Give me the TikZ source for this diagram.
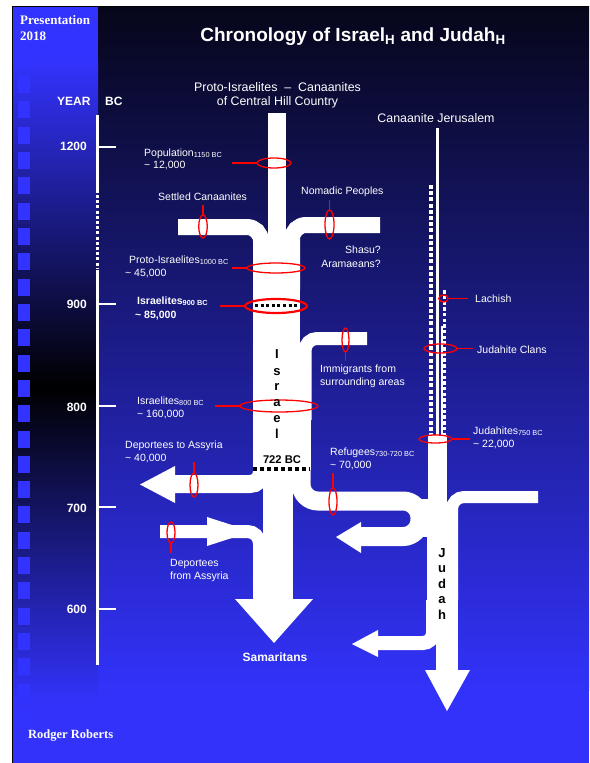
\documentclass[tikz,border=0pt]{standalone}
\usepackage{fontspec}
\setmainfont{Liberation Sans}
\newfontfamily\timesf{Liberation Serif}
\usetikzlibrary{shapes.geometric}
\definecolor{bgtop}{RGB}{6,6,26}
\definecolor{bgmid}{RGB}{30,30,150}
\definecolor{bgbot}{RGB}{50,50,250}
\definecolor{pblue}{RGB}{51,51,255}
\definecolor{bandmid}{RGB}{34,34,175}
\definecolor{bandmidb}{RGB}{25,25,130}
\begin{document}
\begin{tikzpicture}[x=1pt,y=-1pt,
  flow/.style={draw=white, line width=#1, line cap=butt},
  wfill/.style={fill=white, draw=none},
  ring/.style={draw=red, line width=1.3, ellipse, inner sep=0pt, outer sep=0pt},
  lead/.style={draw=red, line width=1.3},
  lbl/.style={text=white, inner sep=0pt, anchor=base west, font=\fontsize{10.5}{12}\selectfont},
  lblb/.style={lbl, font=\fontsize{10.5}{12}\selectfont\bfseries},
  hdr/.style={text=white, inner sep=0pt, anchor=base, font=\fontsize{12.4}{14}\selectfont},
  yr/.style={text=white, inner sep=0pt, anchor=base east, font=\fontsize{12}{14}\selectfont\bfseries},
  vlet/.style={text=black, inner sep=0pt, anchor=base, font=\fontsize{13}{15}\selectfont\bfseries},
  tick/.style={draw=white, line width=1.5},
  dotw/.style={draw=white, line width=#1, dash pattern=on #1 off 2.2pt},
]
\useasboundingbox (0,0) rectangle (589,763);
\fill[white] (0,0) rectangle (589,763);
% backgrounds
\shade[top color=bgtop, middle color=bgmid, bottom color=bgbot] (98,6) rectangle (589,690);
\fill[bgbot] (98,689) rectangle (589,763);
\fill[pblue] (12,6) rectangle (98,60);
\shade[top color=pblue, middle color=bandmid, bottom color=black] (12,59.5) rectangle (98,387);
\shade[top color=black, middle color=bandmidb, bottom color=bgbot] (12,386.5) rectangle (98,700);
\fill[bgbot] (12,699.5) rectangle (98,763);
\foreach \k in {0,...,26} { \fill[pblue] (18,{50.7+25.32*\k}) rectangle +(12,17); }
\draw[black, line width=0.8] (12,763) -- (12,6) -- (589,6);

% timeline
\draw[white, line width=3] (97,115) -- (97,193);
\draw[white, line width=3, dash pattern=on 3 off 2.2] (97,195) -- (97,268);
\draw[white, line width=3] (97,270) -- (97,665);
\foreach \yy in {147,304,406,507,609} { \draw[tick] (97,\yy) -- (116,\yy); }

% ---- Israel stream ----
\fill[wfill] (268,113) rectangle (286,282);
\draw[flow=16, rounded corners=14] (178,227) -- (261,227) -- (261,290);
\draw[flow=16, rounded corners=14] (380,225) -- (292,225) -- (292,290);
\fill[wfill] (253,270) rectangle (300,350);
\draw[flow=13, rounded corners=12] (367,338.5) -- (305,338.5) -- (305,420);
\fill[wfill] (253,345) rectangle (311,470);
\draw[flow=18, rounded corners=12] (262,440) -- (262,484) -- (174,484);
\fill[wfill] (175,466) -- (140,484.5) -- (175,503) -- cycle;
\fill[wfill] (263,460) rectangle (293,600);
\draw[flow=13, rounded corners=12] (160,531.5) -- (259.5,531.5) -- (259.5,601);
\fill[wfill] (207,517) -- (252,531.5) -- (207,546) -- cycle;
\draw[flow=19, rounded corners=17] (301,440) -- (301,501) -- (420,501) -- (420,536.5) -- (361,536.5);
\fill[wfill] (361,522) -- (336,537) -- (361,553) -- cycle;
\fill[wfill] (235,599) -- (313,599) -- (274,643) -- cycle;

% ---- Judah stream ----
\draw[white, line width=3] (437,128) -- (437,437);
\draw[dotw=4] (430.5,185) -- (430.5,437);
\draw[dotw=3.5] (444.5,290) -- (444.5,437);
\draw[white, line width=2] (441.5,326) -- (441.5,437);
\fill[wfill] (428,435) rectangle (447,520);
\draw[flow=12, rounded corners=12] (538,497) -- (452,497) -- (452,600);
\fill[wfill] (436,505) rectangle (458,672);
\fill[wfill] (427,520) rectangle (440,630);
\fill[wfill] (413,499) rectangle (430,537);
\draw[flow=14, rounded corners=10] (433,600) -- (433,643) -- (377,643);
\fill[wfill] (378,630) -- (352,644) -- (378,657) -- cycle;
\fill[wfill] (425,670) -- (470,670) -- (447,711) -- cycle;

% black dotted marks
\draw[black, line width=3, dash pattern=on 3 off 2.6] (255,305.5) -- (298,305.5);
\draw[black, line width=4, dash pattern=on 4 off 3] (253,469) -- (310,469);

% rings
\node[ring, minimum width=34pt, minimum height=10pt] (r1) at (274,163) {};
\node[ring, minimum width=8.5pt, minimum height=23pt] (r2) at (203,226.5) {};
\node[ring, minimum width=9pt, minimum height=29pt] (r3) at (329.5,224.5) {};
\node[ring, minimum width=58pt, minimum height=10pt] (r4) at (276,268) {};
\node[ring, line width=2.2, minimum width=62pt, minimum height=14pt] (r5) at (276,306) {};
\node[ring, minimum width=7pt, minimum height=24pt] (r6) at (345.5,340) {};
\node[ring, minimum width=78pt, minimum height=12pt] (r7) at (279,406) {};
\node[ring, minimum width=8pt, minimum height=24pt] (r8) at (194,485) {};
\node[ring, minimum width=8pt, minimum height=21pt] (r9) at (171,532.5) {};
\node[ring, minimum width=8pt, minimum height=27pt] (r10) at (333,501.5) {};
\node[ring, minimum width=9.5pt, minimum height=7pt] (r11) at (443.5,298.5) {};
\node[ring, minimum width=33pt, minimum height=9pt] (r12) at (440.5,348.5) {};
\node[ring, minimum width=33pt, minimum height=8pt] (r13) at (435.5,439) {};

\coordinate (e1) at (232,163);
\coordinate (e2) at (203,205);
\coordinate (e3) at (329.5,200);
\coordinate (e4) at (232,268);
\coordinate (e5) at (220,306);
\coordinate (e6) at (345.5,361);
\coordinate (e7) at (215,406);
\coordinate (e8) at (194,462);
\coordinate (e9) at (171,553);
\coordinate (e10) at (333,473);
\coordinate (e11) at (468,298.5);
\coordinate (e12) at (473,348.5);
\coordinate (e13) at (470,439);
\draw[lead] (e1) -- (r1.west);
\draw[lead] (e2) -- (r2.north);
\draw[lead] (e3) -- (r3.north);
\draw[lead] (e4) -- (r4.west);
\draw[lead, line width=2.2] (e5) -- (r5.west);
\draw[lead] (r6.south) -- (e6);
\draw[lead] (e7) -- (r7.west);
\draw[lead] (e8) -- (r8.north);
\draw[lead] (r9.south) -- (e9);
\draw[lead] (e10) -- (r10.north);
\draw[lead] (r11.east) -- (e11);
\draw[lead] (r12.east) -- (e12);
\draw[lead] (r13.east) -- (e13);

% ---- texts ----
\node[text=white, inner sep=0pt, anchor=base, font=\fontsize{19}{22}\selectfont\bfseries] (title) at (353,41) {Chronology of Israel\textsubscript{H} and Judah\textsubscript{H}};
\node[text=white, inner sep=0pt, anchor=base west, font=\fontsize{13}{15}\selectfont\timesf\bfseries] (pres1) at (20,24) {Presentation};
\node[text=white, inner sep=0pt, anchor=base west, font=\fontsize{13}{15}\selectfont\timesf\bfseries] (pres2) at (20,40) {2018};
\node[text=white, inner sep=0pt, anchor=base west, font=\fontsize{12.5}{15}\selectfont\timesf\bfseries] (rr) at (28,738) {Rodger Roberts};
\node[yr, anchor=base west] (year) at (57,105) {YEAR};
\node[yr, anchor=base west] (bc) at (105,105) {BC};
\node[yr] (y1200) at (87,150) {1200};
\node[yr] (y900) at (87,308) {900};
\node[yr] (y800) at (87,411) {800};
\node[yr] (y700) at (87,512) {700};
\node[yr] (y600) at (87,613) {600};
\node[hdr] (proto) at (277.5,91.5) {Proto-Israelites \ \textendash\ \ Canaanites};
\node[hdr] (proto2) at (277.5,105) {of Central Hill Country};
\node[hdr] (jer) at (436,122) {Canaanite Jerusalem};

\node[lbl] (popA) at (144,156) {Population\textsubscript{1150 BC}};
\node[lbl] (popB) at (144,168) {\textasciitilde\ 12,000};
\node[lbl] (settled) at (158,200) {Settled Canaanites};
\node[lbl] (nomadic) at (301,194) {Nomadic Peoples};
\node[lbl, anchor=base east] (shasu) at (381,253) {Shasu?};
\node[lbl, anchor=base east] (aram) at (381,267) {Aramaeans?};
\node[lbl] (p1000A) at (129,263) {Proto-Israelites\textsubscript{1000 BC}};
\node[lbl] (p1000B) at (125,276) {\textasciitilde\ 45,000};
\node[lblb] (i900A) at (137,304) {Israelites\textsubscript{900 BC}};
\node[lblb] (i900B) at (135,318) {\textasciitilde\ 85,000};
\node[lbl] (i800A) at (137,404) {Israelites\textsubscript{800 BC}};
\node[lbl] (i800B) at (137,417) {\textasciitilde\ 160,000};
\node[lbl] (depA) at (125,448) {Deportees to Assyria};
\node[lbl] (depB) at (125,461) {\textasciitilde\ 40,000};
\node[lbl] (dfaA) at (170,566) {Deportees};
\node[lbl] (dfaB) at (170,579) {from Assyria};
\node[lbl] (immA) at (320,372) {Immigrants from};
\node[lbl] (immB) at (320,385) {surrounding areas};
\node[lbl] (refA) at (330,455) {Refugees\textsubscript{730-720 BC}};
\node[lbl] (refB) at (330,468) {\textasciitilde\ 70,000};
\node[lbl] (lach) at (475,302) {Lachish};
\node[lbl] (clans) at (477,353) {Judahite Clans};
\node[lbl] (jhA) at (473,434) {Judahites\textsubscript{750 BC}};
\node[lbl] (jhB) at (473,447) {\textasciitilde\ 22,000};

\node[text=black, inner sep=0pt, anchor=base, font=\fontsize{11.2}{13}\selectfont\bfseries] (bc722) at (282,463) {722 BC};
\node[text=white, inner sep=0pt, anchor=base, font=\fontsize{12}{14}\selectfont\bfseries] (sam) at (275,661) {Samaritans};

\node[vlet] (is1) at (277,358) {I};
\node[vlet] (is2) at (277,375) {s};
\node[vlet] (is3) at (277,390) {r};
\node[vlet] (is4) at (277,406) {a};
\node[vlet] (is5) at (277,422) {e};
\node[vlet] (is6) at (277,438) {l};
\node[vlet] (ju1) at (442,557) {J};
\node[vlet] (ju2) at (442,572.5) {u};
\node[vlet] (ju3) at (442,588) {d};
\node[vlet] (ju4) at (442,603.5) {a};
\node[vlet] (ju5) at (442,619) {h};
\end{tikzpicture}
\end{document}
